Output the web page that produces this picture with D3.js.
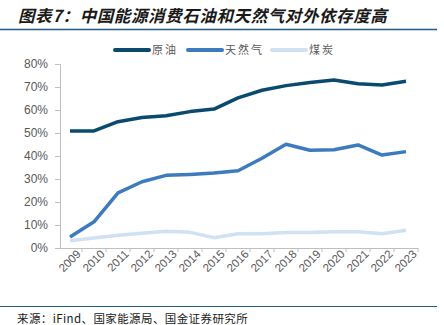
<!DOCTYPE html>
<html>
<head>
<meta charset="utf-8">
<script src="https://cdn.jsdelivr.net/npm/d3@7"></script>
<style>
  html, body { margin: 0; padding: 0; background: #fff; }
  svg { display: block; }
</style>
</head>
<body>
<svg id="chart" width="444" height="325"></svg>
<script>
// Import dependency ratios (%), 2009–2023
const years = ["2009","2010","2011","2012","2013","2014","2015","2016","2017","2018","2019","2020","2021","2022","2023"];
const crudeOil = [50.9, 50.9, 54.9, 56.7, 57.5, 59.3, 60.4, 65.3, 68.6, 70.6, 72.0, 73.0, 71.4, 70.9, 72.5];
const naturalGas = [4.8, 11.4, 24.0, 28.8, 31.6, 32.0, 32.6, 33.6, 39.0, 45.1, 42.5, 42.7, 44.8, 40.4, 41.9];
const coal = [3.2, 4.3, 5.5, 6.4, 7.3, 6.8, 4.5, 6.2, 6.2, 6.7, 6.7, 7.1, 7.1, 6.2, 7.7];
const yTicks = [0, 10, 20, 30, 40, 50, 60, 70, 80];

const seriesNames = ["原油", "天然气", "煤炭"];
const seriesValues = [crudeOil, naturalGas, coal];
const seriesColors = ["#0b4a6f", "#3d7bbf", "#cfe1f2"];

const svg = d3.select("#chart");
const cjk = "'Noto Sans CJK SC', 'Noto Sans', sans-serif";

// Title and rules
svg.append("text")
  .attr("x", 18).attr("y", 22)
  .attr("font-family", cjk)
  .attr("font-size", 16.5)
  .attr("font-weight", "bold")
  .attr("font-style", "italic")
  .attr("letter-spacing", 0.6)
  .attr("fill", "#1a1a1a")
  .text("图表7：中国能源消费石油和天然气对外依存度高");

svg.append("line")
  .attr("x1", 0).attr("x2", 437).attr("y1", 29.5).attr("y2", 29.5)
  .attr("stroke", "#1f5a87").attr("stroke-width", 1.5);

svg.append("line")
  .attr("x1", 0).attr("x2", 437).attr("y1", 306.5).attr("y2", 306.5)
  .attr("stroke", "#1f5a87").attr("stroke-width", 1);

svg.append("text")
  .attr("x", 17).attr("y", 323)
  .attr("font-family", cjk)
  .attr("font-size", 11.5)
  .attr("letter-spacing", 0.4)
  .attr("fill", "#1a1a1a")
  .text("来源：iFind、国家能源局、国金证券研究所");

// Scales
const x = d3.scaleBand().domain(years).range([58, 418]);
const y = d3.scaleLinear().domain([0, 80]).range([248, 64]);

// Y axis
const yAxis = svg.append("g")
  .attr("transform", "translate(60,0)")
  .call(d3.axisLeft(y).tickValues(yTicks).tickFormat(d => d + "%").tickSize(5).tickPadding(7));
yAxis.select(".domain").attr("stroke", "#bfbfbf");
yAxis.selectAll(".tick line").attr("stroke", "#bfbfbf");
yAxis.selectAll(".tick text")
  .attr("font-family", "'Liberation Sans', Arial, sans-serif")
  .attr("font-size", 12)
  .attr("fill", "#595959");

// X axis with ticks between categories
const xAxis = svg.append("g")
  .attr("transform", "translate(0,248)")
  .call(d3.axisBottom(x).tickSize(0).tickSizeOuter(0).tickPadding(6));
xAxis.select(".domain").attr("stroke", "#bfbfbf");
xAxis.selectAll(".tick line").remove();
xAxis.selectAll("line.sep")
  .data(years)
  .enter().append("line")
  .attr("class", "sep")
  .attr("x1", d => x(d) + x.bandwidth())
  .attr("x2", d => x(d) + x.bandwidth())
  .attr("y1", 0).attr("y2", 4)
  .attr("stroke", "#bfbfbf");
xAxis.selectAll(".tick text")
  .attr("font-family", "'Liberation Sans', Arial, sans-serif")
  .attr("font-size", 11.5)
  .attr("fill", "#595959")
  .attr("text-anchor", "end")
  .attr("dx", "0.3em")
  .attr("dy", "0.6em")
  .attr("transform", "rotate(-45)");

// Lines, drawn back to front
const line = d3.line()
  .x((d, i) => x(years[i]) + x.bandwidth() / 2)
  .y(d => y(d));

for (let idx = seriesValues.length - 1; idx >= 0; idx--) {
  svg.append("path")
    .datum(seriesValues[idx])
    .attr("d", line)
    .attr("fill", "none")
    .attr("stroke", seriesColors[idx])
    .attr("stroke-width", 3.5)
    .attr("stroke-linejoin", "round");
}

// Legend
const legendX = [115, 188, 272];
const legend = svg.append("g");
seriesNames.forEach((name, i) => {
  const g = legend.append("g").attr("transform", `translate(${legendX[i]},50)`);
  g.append("line")
    .attr("x1", 0).attr("x2", 34).attr("y1", 0).attr("y2", 0)
    .attr("stroke", seriesColors[i]).attr("stroke-width", 4)
    .attr("stroke-linecap", "round");
  g.append("text")
    .attr("x", 37).attr("y", 4)
    .attr("font-family", cjk)
    .attr("font-size", 11)
    .attr("letter-spacing", 2)
    .attr("fill", "#595959")
    .text(name);
});
</script>
</body>
</html>
